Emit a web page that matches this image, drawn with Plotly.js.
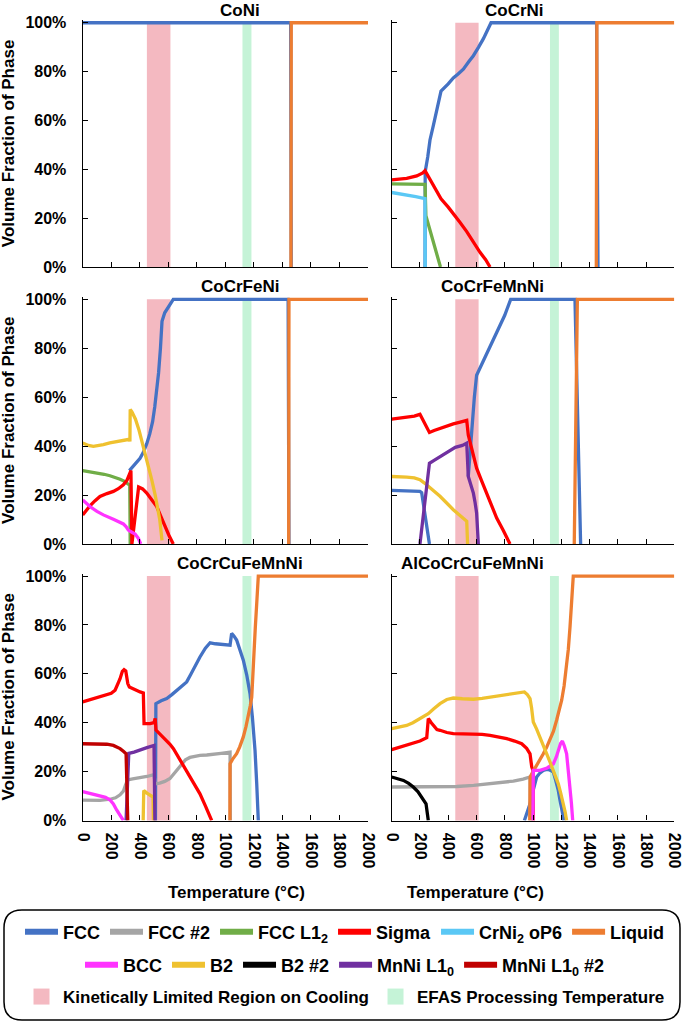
<!DOCTYPE html>
<html>
<head>
<meta charset="utf-8">
<script src="https://cdn.plot.ly/plotly-3.0.1.min.js"></script>
<style>html,body{margin:0;padding:0;background:#fff}</style>
</head>
<body>
<div id="graph" style="width:685px;height:1023px"></div>
<script>
// phase names and colours (same order as the spreadsheet series, later ones drawn on top)
var phaseNames = ['FCC', 'FCC #2', 'FCC L1<sub>2</sub>', 'Sigma', 'CrNi<sub>2</sub> oP6', 'Liquid',
                  'BCC', 'B2', 'B2 #2', 'MnNi L1<sub>0</sub>', 'MnNi L1<sub>0</sub> #2'];
var phaseColors = ['#4472C4', '#A5A5A5', '#70AD47', '#FF0000', '#5BC8F5', '#ED7D31',
                   '#FF33FF', '#EFC12F', '#000000', '#7030A0', '#C00000'];

var alloyNames = ['CoNi', 'CoCrNi', 'CoCrFeNi', 'CoCrFeMnNi', 'CoCrCuFeMnNi', 'AlCoCrCuFeMnNi'];

// shaded temperature bands (°C)
var kineticBand = [450, 615];
var efasBand = [1120, 1183];

// [temperature °C, volume fraction %]
var coNi_fcc = [[0,100],[1458,100],[1462,0]];
var coNi_liquid = [[1460,0],[1462,100],[2000,100]];

var coCrNi_fcc = [[236,0],[237,39],[255,45],[271,52],[295,58],[318,64],[349,72],[400,75],[436,77.4],
  [470,79],[507,81],[545,84],[578,86.5],[615,90],[649,93.5],[703,100],[1450,100],[1460,0]];
var coCrNi_l12 = [[0,34],[120,34],[236,33.8],[242,21],[270,15],[295,10.5],[320,5.5],[345,0]];
var coCrNi_sigma = [[0,35.7],[50,36],[106,36.3],[177,37.3],[220,38.5],[236,39.4],[270,36],[300,32.5],
  [349,27.9],[400,24.5],[436,22],[480,18.5],[531,14.5],[580,10],[625,6],[665,3],[696,0]];
var coCrNi_crni2 = [[0,30.5],[60,30],[106,29.6],[170,28.8],[236,28],[237,0]];
var coCrNi_liquid = [[1448,0],[1452,100],[2000,100]];

var coCrFeNi_fcc = [[327,30],[350,31.5],[378,33],[402,35],[425,37.5],[449,41],[470,45],[490,50],[505,56],
  [520,63],[532,70],[545,80],[556,91],[575,94.5],[595,96.5],[615,98.5],[635,100],[1440,100],[1446,0]];
var coCrFeNi_l12 = [[0,30],[50,29.6],[98,29],[150,28.5],[191,27.9],[230,27.2],[262,26.5],[290,25.7],
  [308,25.1],[330,24],[333,0]];
var coCrFeNi_sigma = [[0,11.9],[25,13.8],[51,15.6],[85,17.6],[121,19.4],[170,20.6],[215,21.5],[250,22.6],
  [285,24.2],[310,26],[327,28.3],[338,30],[345,0],[392,23.3],[420,22.5],[449,20.8],[485,18],[519,15.3],
  [550,11],[577,7.1],[605,3.5],[635,0]];
var coCrFeNi_liquid = [[1444,0],[1446,100],[2000,100]];
var coCrFeNi_bcc = [[0,18],[25,16.5],[51,15.3],[100,13.3],[145,11.9],[215,10.1],[260,9],[285,8.2],
  [305,7],[320,5.7],[345,4.8],[367,4.1],[390,2.3],[407,0]];
var coCrFeNi_b2 = [[0,41.3],[40,40.3],[75,39.9],[110,40.2],[145,40.6],[190,41.3],[238,41.9],[280,42.4],
  [308,42.6],[328,42.8],[331,41.9],[333,55],[345,54],[370,51],[395,46.5],[413,42.6],[440,36],[460,32],
  [485,26],[508,20],[525,15],[540,10],[556,1.5]];

var coCrFeMnNi_fcc = [[0,21.9],[100,21.8],[200,21.5],[212,21],[267,0],[null,null],[542,27.6],[555,38],
  [570,50],[585,60],[601,69],[650,75],[696,80.7],[730,84.5],[767,88.8],[800,93.5],[842,100],[1297,100],[1337,0]];
var coCrFeMnNi_sigma = [[0,51],[50,51.3],[106,51.8],[160,52.3],[200,53],[267,45.6],[300,46.4],[342,47.3],
  [390,48.3],[436,49.1],[485,49.8],[531,50.5],[542,44.6],[570,38],[601,31],[635,26],[672,20.8],[710,15.5],
  [743,10.6],[790,5.5],[837,0]];
var coCrFeMnNi_liquid = [[1292,0],[1314,100],[2000,100]];
var coCrFeMnNi_b2 = [[0,27.6],[60,27.6],[106,27.3],[160,27],[200,26.3],[230,25],[271,22.9],[342,19.5],
  [436,14],[531,9.3],[537,0]];
var coCrFeMnNi_mnni = [[200,0],[267,33],[300,34.2],[350,36],[400,37.8],[450,39.5],[500,40.3],[531,41.2],
  [542,27.6],[560,24],[578,20.8],[590,17],[601,12.7],[613,0]];

var coCrCuFeMnNi_fcc = [[510,0],[513,47.8],[550,49],[589,49.9],[625,51.5],[659,53.3],[695,55],[729,56.7],
  [760,60],[790,63.5],[822,66.9],[860,70.5],[893,72.7],[930,72.3],[963,72],[1000,71.8],[1033,71.7],
  [1044,76.5],[1060,75.5],[1079,73.8],[1100,70.5],[1126,65.6],[1150,59.5],[1173,51.9],[1190,42],
  [1208,28.7],[1220,15],[1231,0]];
var coCrCuFeMnNi_fcc2 = [[0,8.3],[60,8.2],[121,8.2],[192,8.7],[230,9.3],[262,10.5],[285,12],[300,14.5],
  [315,16.6],[350,17],[402,17.4],[450,18],[500,18.8],[508,15],[540,15.3],[575,16],[612,17.2],[650,19.8],
  [694,23.2],[720,24.8],[752,25.8],[790,26.4],[822,26.6],[870,26.8],[916,27],[970,27.5],[1033,28],[1035,0]];
var coCrCuFeMnNi_sigma = [[0,48.5],[40,49.2],[75,49.9],[120,50.5],[168,51.2],[200,52],[227,53.3],[245,55.5],
  [262,58],[278,61],[290,61.7],[302,61.2],[316,56],[327,54.6],[355,54],[380,53.2],[402,52.6],[425,52.2],
  [430,39.6],[472,39.6],[500,40],[508,41.8],[514,37],[540,35.5],[565,34],[589,32.8],[612,31.2],[636,29.4],
  [660,27],[690,24],[729,20.5],[775,15.5],[822,10.9],[860,6],[904,0]];
var coCrCuFeMnNi_liquid = [[1032,0],[1033,23.2],[1050,25],[1079,27.3],[1100,30],[1126,34.2],[1145,38.5],
  [1161,42.3],[1175,47],[1185,50.5],[1193,58],[1201,69.7],[1210,79],[1220,88.8],[1231,100],[2000,100]];
var coCrCuFeMnNi_bcc = [[0,11.8],[40,11.3],[80,10.8],[122,10.3],[160,9.5],[192,8.4],[215,6.8],[238,4.3],
  [260,2.2],[285,0]];
var coCrCuFeMnNi_b2 = [[424,0],[428,12.3],[450,11.2],[493,9.6],[496,0]];
var coCrCuFeMnNi_mnni = [[304,0],[323,27.5],[360,28],[402,28.7],[450,29.8],[500,30.7],[506,0]];
var coCrCuFeMnNi_mnni2 = [[0,31.4],[60,31.4],[121,31.4],[170,31.2],[215,30.7],[240,30.1],[262,29.4],
  [285,28.3],[304,27.3],[316,0]];

var alCoCrCuFeMnNi_fcc = [[939,0],[960,3.5],[979,6.8],[1000,12],[1026,17.8],[1050,19.5],[1073,20.5],
  [1090,20.8],[1108,20.9],[1125,20.5],[1144,19.8],[1160,16.5],[1179,12.3],[1192,8],[1203,4.1],[1219,0]];
var alCoCrCuFeMnNi_fcc2 = [[0,13.7],[100,13.7],[224,13.7],[340,13.8],[460,13.9],[580,14.4],[696,15],
  [780,15.5],[861,16.1],[930,16.9],[979,17.8],[981,0]];
var alCoCrCuFeMnNi_sigma = [[0,29],[50,29.8],[106,30.7],[150,31.5],[200,32.5],[248,33.9],[259,41.7],
  [280,40],[300,38.5],[320,37.2],[342,36.9],[390,36],[436,35.5],[500,35.5],[578,35.5],[640,35.2],
  [696,34.8],[760,34.2],[814,33.5],[870,32.5],[920,31.4],[955,29.5],[979,27.3],[991,21.9],[1000,20.5],[1002,0]];
var alCoCrCuFeMnNi_liquid = [[977,0],[980,17.8],[1000,20],[1026,22.5],[1050,25],[1073,27.3],[1097,30],
  [1120,32.8],[1145,36.5],[1167,41],[1186,45],[1203,49.2],[1220,55],[1238,62.8],[1250,70],[1262,79.2],
  [1274,90],[1285,100],[2000,100]];
var alCoCrCuFeMnNi_bcc = [[1000,0],[1002,20.5],[1025,20.5],[1050,20.5],[1100,21.5],[1144,23.2],[1165,26],
  [1179,28.7],[1195,31.5],[1208,32.5],[1222,30.5],[1238,27.3],[1250,21],[1262,15],[1272,7],[1281,0]];
var alCoCrCuFeMnNi_b2 = [[0,37.6],[50,38.2],[106,38.9],[150,40],[177,41],[220,42.3],[259,43.7],[300,45.8],
  [342,47.8],[390,49.5],[436,50.1],[500,49.8],[578,49.6],[640,50],[696,50.5],[740,51],[790,51.6],[860,52.1],
  [939,52.6],[960,51.5],[979,49.9],[990,46],[1002,40.3],[1025,37.5],[1050,34.2],[1073,31],[1097,27.3],
  [1120,24],[1144,20.5],[1160,18],[1179,15],[1197,11],[1215,6.8],[1228,3.3],[1238,0]];
var alCoCrCuFeMnNi_b2b = [[0,17.8],[40,17.2],[83,16.4],[120,15.2],[153,13.7],[185,11.8],[212,9.6],
  [243,6.8],[252,3],[259,0]];

// which phase index each series belongs to, per subplot
var alloySeries = [
  [[0, coNi_fcc], [5, coNi_liquid]],
  [[0, coCrNi_fcc], [2, coCrNi_l12], [3, coCrNi_sigma], [4, coCrNi_crni2], [5, coCrNi_liquid]],
  [[0, coCrFeNi_fcc], [2, coCrFeNi_l12], [3, coCrFeNi_sigma], [5, coCrFeNi_liquid], [6, coCrFeNi_bcc], [7, coCrFeNi_b2]],
  [[0, coCrFeMnNi_fcc], [3, coCrFeMnNi_sigma], [5, coCrFeMnNi_liquid], [7, coCrFeMnNi_b2], [9, coCrFeMnNi_mnni]],
  [[0, coCrCuFeMnNi_fcc], [1, coCrCuFeMnNi_fcc2], [3, coCrCuFeMnNi_sigma], [5, coCrCuFeMnNi_liquid],
   [6, coCrCuFeMnNi_bcc], [7, coCrCuFeMnNi_b2], [9, coCrCuFeMnNi_mnni], [10, coCrCuFeMnNi_mnni2]],
  [[0, alCoCrCuFeMnNi_fcc], [1, alCoCrCuFeMnNi_fcc2], [3, alCoCrCuFeMnNi_sigma], [5, alCoCrCuFeMnNi_liquid],
   [6, alCoCrCuFeMnNi_bcc], [7, alCoCrCuFeMnNi_b2], [8, alCoCrCuFeMnNi_b2b]]
];

var W = 685, H = 1023;
var fontFam = 'Liberation Sans, Arial, sans-serif';
function px(x) { return x / W; }
function py(y) { return 1 - y / H; }

// subplot boxes in pixels
var colX = [[82.7, 368], [391.7, 674.3]];
var rowY = [[20.3, 267], [296.9, 544], [573.6, 820.5]];

var traces = [];
var layout = {
  width: W, height: H,
  margin: {l: 0, r: 0, t: 0, b: 0},
  paper_bgcolor: 'white', plot_bgcolor: 'white',
  font: {family: fontFam, color: 'black'},
  showlegend: true,
  shapes: [], annotations: []
};

// legend entries (thicker swatches than the plotted lines)
phaseNames.forEach(function (nm, p) {
  traces.push({
    type: 'scatter', mode: 'lines', x: [null], y: [null], xaxis: 'x', yaxis: 'y',
    name: nm, legendgroup: 'p' + p, legendrank: p + 1,
    legend: p < 6 ? 'legend' : 'legend2',
    line: {color: phaseColors[p], width: 6}, hoverinfo: 'skip'
  });
});
traces.push({type: 'scatter', mode: 'markers', x: [null], y: [null], name: 'Kinetically Limited Region on Cooling',
  legend: 'legend3', legendrank: 1, marker: {symbol: 'square', size: 20, color: '#F4B9C1'}, hoverinfo: 'skip'});
traces.push({type: 'scatter', mode: 'markers', x: [null], y: [null], name: 'EFAS Processing Temperature',
  legend: 'legend3', legendrank: 2, marker: {symbol: 'square', size: 20, color: '#C5F3D7'}, hoverinfo: 'skip'});

for (var k = 0; k < 6; k++) {
  var suf = k === 0 ? '' : String(k + 1);
  var col = k % 2, row = Math.floor(k / 2);
  alloySeries[k].forEach(function (s) {
    var p = s[0], pts = s[1];
    traces.push({
      type: 'scatter', mode: 'lines',
      x: pts.map(function (d) { return d[0]; }),
      y: pts.map(function (d) { return d[1]; }),
      xaxis: 'x' + suf, yaxis: 'y' + suf,
      name: phaseNames[p], legendgroup: 'p' + p, showlegend: false,
      line: {color: phaseColors[p], width: 3.3},
      connectgaps: false, hoverinfo: 'skip'
    });
  });

  layout['xaxis' + suf] = {
    domain: [px(colX[col][0]), px(colX[col][1])], anchor: 'y' + suf,
    range: [0, 2000], tickmode: 'linear', dtick: 200, tick0: 0,
    ticks: 'inside', ticklen: 5, tickwidth: 1.3, tickcolor: 'black',
    showline: true, linecolor: 'black', linewidth: 1.3,
    showgrid: false, zeroline: false,
    showticklabels: row === 2, tickangle: 90, ticklabelstandoff: 8,
    tickfont: {family: fontFam, size: 16, weight: 'bold', color: 'black'}
  };
  layout['yaxis' + suf] = {
    domain: [py(rowY[row][1]), py(rowY[row][0])], anchor: 'x' + suf,
    range: [0, 101], tickmode: 'linear', tick0: 0, dtick: 20, ticksuffix: '%',
    ticks: 'inside', ticklen: 5, tickwidth: 1.3, tickcolor: 'black',
    showline: true, linecolor: 'black', linewidth: 1.3,
    showgrid: false, zeroline: false,
    showticklabels: col === 0, ticklabelstandoff: 12,
    tickfont: {family: fontFam, size: 16, weight: 'bold', color: 'black'}
  };

  [[kineticBand, '#F4B9C1'], [efasBand, '#C5F3D7']].forEach(function (b) {
    layout.shapes.push({
      type: 'rect', layer: 'below', xref: 'x' + suf, yref: 'y' + suf + ' domain',
      x0: b[0][0], x1: b[0][1], y0: 0, y1: 100 / 101,
      fillcolor: b[1], line: {width: 0}
    });
  });

  layout.annotations.push({
    text: alloyNames[k], xref: 'paper', yref: 'paper', showarrow: false,
    x: px(col === 0 ? 240 : 546), y: py(rowY[row][0] - 10), yanchor: 'middle',
    font: {family: fontFam, size: 17, weight: 'bold', color: 'black'}
  });
  if (col === 0) {
    layout.annotations.push({
      text: 'Volume Fraction of Phase', xref: 'paper', yref: 'paper', showarrow: false,
      x: px(8.5), y: py((rowY[row][0] + rowY[row][1]) / 2), textangle: -90,
      xanchor: 'center', yanchor: 'middle',
      font: {family: fontFam, size: 17, weight: 'bold', color: 'black'}
    });
  }
  if (row === 2) {
    layout.annotations.push({
      text: 'Temperature (°C)', xref: 'paper', yref: 'paper', showarrow: false,
      x: px(col === 0 ? 236 : 546), y: py(892), yanchor: 'middle',
      font: {family: fontFam, size: 17, weight: 'bold', color: 'black'}
    });
  }
}

function legendAt(yPix, size) {
  return {orientation: 'h', x: px(345), xanchor: 'center', y: py(yPix), yanchor: 'middle',
    font: {family: fontFam, size: size, weight: 'bold', color: 'black'},
    bgcolor: 'rgba(0,0,0,0)', itemwidth: 33, traceorder: 'normal', tracegroupgap: 0};
}
layout.legend = legendAt(932, 18);
layout.legend2 = legendAt(965, 18);
layout.legend3 = legendAt(997, 17);

// rounded frame around the legends
(function () {
  var x0 = px(4), x1 = px(680), yt = py(910), yb = py(1020);
  var rx = 18 / W, ry = 18 / H;
  layout.shapes.push({
    type: 'path', xref: 'paper', yref: 'paper', layer: 'above',
    path: 'M' + (x0 + rx) + ',' + yt + ' L' + (x1 - rx) + ',' + yt +
      ' Q' + x1 + ',' + yt + ' ' + x1 + ',' + (yt - ry) +
      ' L' + x1 + ',' + (yb + ry) + ' Q' + x1 + ',' + yb + ' ' + (x1 - rx) + ',' + yb +
      ' L' + (x0 + rx) + ',' + yb + ' Q' + x0 + ',' + yb + ' ' + x0 + ',' + (yb + ry) +
      ' L' + x0 + ',' + (yt - ry) + ' Q' + x0 + ',' + yt + ' ' + (x0 + rx) + ',' + yt + ' Z',
    line: {color: 'black', width: 1.5}, fillcolor: 'rgba(0,0,0,0)'
  });
})();

Plotly.newPlot('graph', traces, layout, {displayModeBar: false});
</script>
</body>
</html>
